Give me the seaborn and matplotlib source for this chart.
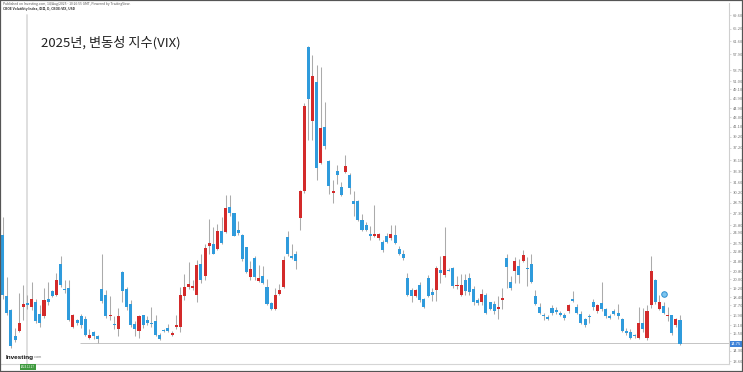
import numpy as np
import pandas as pd
import seaborn as sns
import matplotlib
matplotlib.use("Agg")
import matplotlib.pyplot as plt
from matplotlib.patches import Rectangle
from matplotlib.ticker import NullLocator
import matplotlib.transforms as mtransforms

# ---------------- data (daily candles, VIX) ----------------
opens = [24.7, 18.5, 17.3, 15.3, 15.7, 17.6, 17.9, 17.6, 18.0, 17.0,
         16.8, 18.2, 18.9, 18.6, 21.5, 19.1, 19.2, 16.0, 16.5, 16.8,
         16.6, 15.2, 15.6, 15.3, 19.1, 18.6, 16.8, 16.2, 15.8, 20.7,
         19.1, 17.8, 16.2, 15.7, 16.9, 16.5, 16.25, 16.4, 15.4, 15.75,
         15.9, 15.4, 16.0, 16.0, 18.5, 19.3, 19.2, 18.6, 21.5, 20.3,
         23.4, 23.6, 23.1, 25.1, 25.0, 28.1, 27.3, 25.25, 24.7, 23.3,
         20.2, 22.1, 19.85, 20.3, 19.3, 17.9, 17.4, 18.7, 19.3, 24.4,
         22.3, 22.6, 26.7, 30.3, 59.9, 42.3, 50.8, 34.6, 41.0, 34.9,
         30.1, 33.4, 31.0, 33.2, 32.7, 28.9, 29.0, 26.5, 25.9, 24.8,
         24.6, 24.3, 23.9, 24.5, 24.3, 24.7, 23.1, 22.6, 20.1, 19.0,
         18.5, 19.5, 18.2, 20.1, 18.85, 19.0, 20.9, 20.4, 20.95, 21.1,
         19.4, 18.6, 19.95, 20.1, 19.1, 18.15, 17.95, 18.6, 17.95, 17.8,
         17.4, 18.15, 22.1, 19.8, 20.8, 21.3, 21.8, 21.1, 21.5, 18.5,
         17.6, 16.9, 16.75, 17.45, 17.3, 17.1, 16.95, 17.2, 18.2, 17.6,
         17.0, 16.6, 16.8, 18.0, 17.2, 17.9, 17.4, 16.85, 17.2, 17.1,
         16.6, 15.7, 15.6, 15.4, 15.2, 16.3, 15.2, 17.7, 19.9, 17.4,
         17.65, 16.85, 16.9, 16.1, 16.5]
highs = [26.9, 20.2, 17.4, 15.9, 18.8, 19.5, 18.6, 19.8, 18.2, 17.7,
         19.2, 19.8, 19.0, 20.6, 22.3, 19.9, 19.9, 17.0, 16.6, 17.0,
         16.8, 15.8, 15.7, 15.4, 22.6, 19.0, 18.5, 16.8, 17.5, 20.8,
         19.3, 18.15, 16.4, 16.9, 16.95, 16.8, 17.6, 16.9, 15.5, 15.8,
         16.2, 15.7, 16.9, 19.3, 20.5, 21.7, 19.95, 21.9, 22.6, 23.6,
         26.6, 25.6, 26.0, 26.9, 29.8, 29.8, 27.4, 26.3, 24.8, 23.35,
         21.8, 22.3, 21.4, 21.3, 20.0, 18.0, 19.2, 19.6, 22.3, 25.1,
         23.6, 22.9, 30.5, 45.9, 60.1, 57.6, 55.0, 54.5, 46.1, 35.1,
         32.0, 34.3, 31.6, 35.9, 33.0, 30.4, 29.1, 27.2, 26.2, 25.7,
         28.4, 24.9, 24.1, 24.9, 25.9, 25.9, 23.4, 23.0, 20.6, 19.2,
         19.1, 19.8, 18.3, 20.4, 19.2, 21.3, 22.3, 25.6, 21.1, 21.2,
         20.3, 20.5, 20.5, 20.6, 19.35, 18.3, 19.1, 18.8, 18.0, 18.1,
         18.5, 19.2, 22.5, 20.3, 22.2, 22.0, 23.0, 22.2, 22.6, 19.0,
         17.9, 17.1, 16.9, 17.7, 17.6, 17.2, 17.1, 17.8, 18.9, 17.8,
         17.2, 16.7, 17.0, 18.2, 17.8, 19.8, 17.5, 17.0, 17.4, 17.8,
         16.7, 15.9, 15.8, 15.45, 17.6, 17.5, 17.7, 22.3, 20.0, 18.6,
         18.0, 17.6, 16.95, 16.7, 16.9]
lows = [18.2, 16.9, 14.5, 14.9, 15.6, 16.5, 17.4, 17.3, 16.3, 16.0,
        16.7, 17.7, 18.4, 18.5, 19.3, 18.8, 16.4, 15.9, 16.1, 15.9,
        15.3, 15.1, 15.1, 14.8, 17.9, 16.7, 16.5, 15.8, 15.3, 18.0,
        17.3, 16.0, 15.3, 15.2, 15.9, 16.1, 16.0, 15.3, 15.0, 15.6,
        15.6, 15.35, 15.8, 15.6, 18.15, 19.1, 19.0, 18.0, 19.7, 19.95,
        22.6, 22.5, 23.0, 23.6, 24.9, 27.0, 24.5, 24.7, 21.8, 20.65,
        19.95, 19.95, 19.8, 19.6, 17.7, 17.3, 17.3, 18.6, 19.2, 22.3,
        22.0, 21.0, 25.3, 30.0, 38.6, 38.6, 32.0, 34.4, 37.0, 29.9,
        28.7, 31.4, 29.6, 33.1, 29.9, 27.0, 26.3, 25.1, 25.1, 24.1,
        24.4, 24.1, 22.8, 23.7, 24.1, 23.6, 22.4, 21.9, 18.5, 18.0,
        18.4, 18.0, 17.5, 18.4, 18.1, 18.1, 19.7, 20.2, 20.8, 19.2,
        19.1, 18.5, 18.6, 18.6, 17.7, 17.7, 17.7, 17.0, 17.3, 17.0,
        16.6, 17.4, 19.2, 19.0, 19.7, 19.7, 21.7, 19.4, 19.7, 17.7,
        17.0, 16.5, 16.5, 16.9, 17.0, 16.8, 16.5, 17.1, 18.0, 17.0,
        16.2, 16.0, 16.3, 17.3, 17.1, 17.25, 16.7, 16.6, 16.9, 16.6,
        15.6, 15.4, 15.1, 15.2, 15.1, 15.6, 15.0, 17.5, 17.8, 17.3,
        17.0, 16.4, 15.4, 16.0, 14.7]
closes = [18.6, 17.1, 14.6, 15.0, 16.3, 17.8, 17.7, 18.2, 16.4, 16.3,
          18.15, 18.0, 18.5, 19.9, 19.5, 19.0, 16.5, 16.9, 16.3, 16.1,
          15.4, 15.4, 15.3, 15.1, 18.1, 16.8, 16.95, 16.1, 16.8, 18.9,
          17.6, 16.1, 15.8, 16.8, 16.1, 16.3, 16.2, 15.4, 15.1, 15.65,
          15.7, 15.5, 16.1, 18.6, 19.3, 19.6, 19.4, 21.4, 19.95, 23.2,
          23.8, 22.6, 25.1, 23.8, 28.0, 27.3, 24.6, 24.9, 22.0, 20.7,
          21.0, 20.2, 20.1, 19.7, 17.8, 17.4, 18.6, 19.0, 21.9, 22.6,
          22.1, 21.8, 30.3, 45.3, 46.9, 52.2, 33.8, 40.8, 37.5, 31.1,
          30.3, 32.7, 29.8, 34.1, 30.8, 28.5, 26.5, 25.2, 25.3, 24.5,
          24.8, 24.8, 23.0, 23.9, 24.8, 23.7, 22.6, 22.1, 18.6, 18.5,
          19.0, 18.15, 17.6, 18.5, 18.55, 21.1, 20.6, 22.3, 20.85, 19.4,
          19.5, 19.5, 18.9, 18.85, 18.0, 17.9, 18.7, 17.1, 17.4, 17.25,
          17.55, 18.3, 21.2, 19.2, 21.8, 20.4, 22.45, 21.0, 19.8, 17.8,
          17.1, 16.8, 16.6, 17.1, 17.15, 16.9, 16.7, 17.7, 18.1, 17.1,
          16.3, 16.1, 16.75, 17.6, 17.7, 17.4, 16.8, 16.7, 17.0, 16.8,
          15.7, 15.55, 15.2, 15.3, 16.3, 15.8, 17.2, 20.8, 17.95, 18.0,
          17.1, 16.95, 15.5, 16.6, 14.75]
ytick_values = [13.60, 14.30, 15.50, 16.10, 16.90, 17.70, 18.40, 19.20, 20.00,
                20.80, 21.80, 22.80, 23.70, 24.90, 25.80, 27.30, 28.70, 30.20,
                31.60, 33.30, 35.10, 37.20, 39.20, 41.10, 43.00, 44.90, 46.90,
                49.10, 51.00, 53.70, 57.90, 61.60, 65.20, 69.60]
title = "2025년, 변동성 지수(VIX)"
last_price = 14.75
hline_price = 14.82
event_index = 160
event_price = 18.67
crosshair_index = 6
crosshair_date = "2024.12.27"

# ---------------- style ----------------
sns.set_theme(style="white")
plt.rcParams['font.family'] = ['Noto Sans CJK KR', 'DejaVu Sans']

RED = "#d32a2a"
BLUE = "#2f9bdc"
WICK = "#ababab"

df = pd.DataFrame({"open": opens, "high": highs, "low": lows, "close": closes})
df["idx"] = np.arange(len(df))
df["up"] = df["close"] >= df["open"]
df["bottom"] = df[["open", "close"]].min(axis=1)
df["height"] = (df["close"] - df["open"]).abs().clip(lower=0.08)

W, H = 743, 372
fig = plt.figure(figsize=(W / 100, H / 100), dpi=100)
fig.patch.set_facecolor("white")
ax = fig.add_axes([1 / W, 8 / H, 728 / W, 361 / H])
ax.set_facecolor("white")
ax.set_yscale("log")
ax.set_ylim(13.42, 73.7)
step = 4.13
left = -(2.7 - 1) / step
ax.set_xlim(left, left + 728 / step)

# wicks
ax.vlines(df["idx"], df["low"], df["high"], color=WICK, lw=0.75, zorder=1)
# bodies
ax.bar(df["idx"], df["height"], bottom=df["bottom"], width=0.74,
       color=np.where(df["up"], RED, BLUE), linewidth=0, zorder=2)

# event marker
sns.scatterplot(x=[event_index], y=[event_price], ax=ax, s=16, color="#7cc4ee",
                edgecolor="#2f8fd0", linewidth=0.7, zorder=4, legend=False)

# last price line and crosshair
ax.hlines(hline_price, 18.7, left + 728 / step, color="#c4c4c4", lw=0.7, zorder=0)
ax.axvline(crosshair_index, ymin=0, ymax=(364 - 15) / 361, color="#dcdcdc", lw=1.3, zorder=0)

# axes / spines
for s in ["top", "left"]:
    ax.spines[s].set_visible(False)
ax.spines["right"].set_color("#cfcfcf")
ax.spines["right"].set_linewidth(0.8)
ax.spines["bottom"].set_color("#d5d5d5")
ax.spines["bottom"].set_linewidth(0.8)
ax.yaxis.tick_right()
ax.set_yticks(ytick_values)
ax.set_yticklabels([f"{v:.2f}" for v in ytick_values], fontsize=3.0, color="#777777")
ax.yaxis.set_minor_locator(NullLocator())
ax.tick_params(axis="y", length=1.5, width=0.5, color="#cccccc", pad=1)
ax.set_xticks([])
ax.set_xlabel("")
ax.set_ylabel("")
ax.grid(False)

# last price tag
trans = mtransforms.blended_transform_factory(ax.transAxes, ax.transData)
ax.text(1.003, last_price, f"{last_price:.2f}", transform=trans, fontsize=3.0,
        color="white", va="center", ha="left", zorder=6, clip_on=False,
        bbox=dict(boxstyle="square,pad=0.35", fc="#3d82d8", ec="none"))

# texts
fig.text(40.7 / W, 1 - 43 / H, title, fontsize=9.5, color="#222222", va="center", ha="left")
fig.text(3 / W, 1 - 4.2 / H,
         "Published on Investing.com, 14/Aug/2025 - 10:26:55 GMT, Powered by TradingView.",
         fontsize=2.4, color="#555555", va="center", ha="left")
fig.text(3 / W, 1 - 8.8 / H, "CBOE Volatility Index, 미국, D, CBOE:VIX, USD",
         fontsize=2.4, color="#333333", fontweight="bold", va="center", ha="left")
fig.text(6 / W, 1 - 357 / H, "Investing", fontsize=4.6, fontweight="bold",
         color="#111111", va="center", ha="left", family=["Liberation Sans", "DejaVu Sans"])
fig.text(33.5 / W, 1 - 357.5 / H, ".com", fontsize=2.8, color="#777777",
         va="center", ha="left", family=["Liberation Sans", "DejaVu Sans"])
fig.text(27.8 / W, 1 - 367 / H, crosshair_date, fontsize=2.0, color="white",
         ha="center", va="center",
         bbox=dict(boxstyle="square,pad=0.35", fc="#3f9a3f", ec="none"))

# frame
fig.add_artist(Rectangle((0, 0), 1, 1, transform=fig.transFigure, fill=False,
                         ec="#555555", lw=1.6, zorder=10))

fig.savefig("out.png", dpi=100)
